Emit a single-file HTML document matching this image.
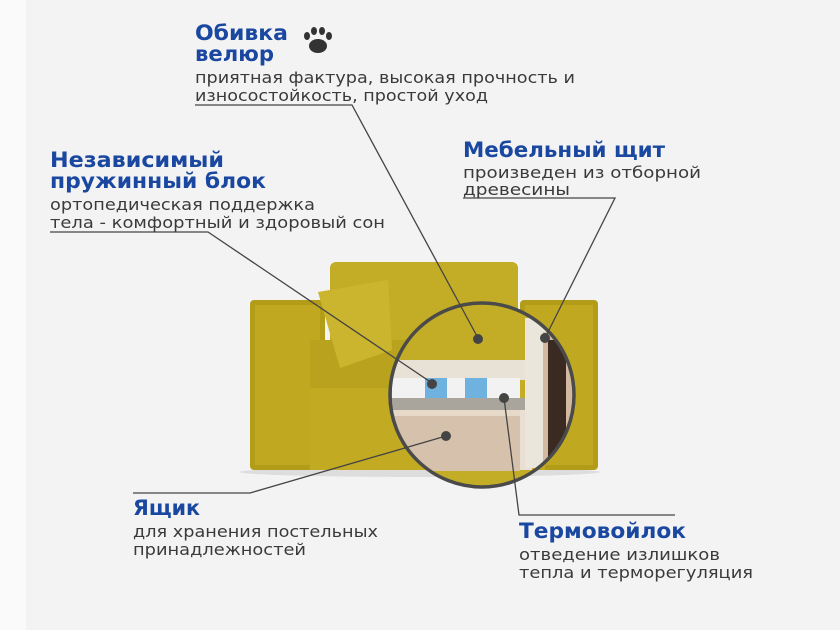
<!DOCTYPE html>
<html><head><meta charset="utf-8"><style>
body{margin:0;background:#f3f3f3;}
svg{display:block}
.h{font-family:"DejaVu Sans","Liberation Sans",sans-serif;font-weight:bold;fill:#1a47a0;font-size:21px}
.d{font-family:"DejaVu Sans","Liberation Sans",sans-serif;fill:#3a3a3a;font-size:16px}
</style></head><body>
<svg width="840" height="630" viewBox="0 0 840 630">
<rect width="840" height="630" fill="#f3f3f3"/>
<rect x="0" y="0" width="26" height="630" fill="#fafafa"/>
<!-- sofa -->
<ellipse cx="420" cy="472" rx="180" ry="5" fill="#ddd"/>
<rect x="250" y="300" width="75" height="170" rx="4" fill="#b39c18"/>
<rect x="255" y="305" width="65" height="160" fill="#c0a920"/>
<rect x="520" y="300" width="78" height="170" rx="4" fill="#b39c18"/>
<rect x="525" y="305" width="68" height="160" fill="#c0a920"/>
<rect x="330" y="262" width="188" height="95" rx="6" fill="#c4ad26"/>
<rect x="310" y="340" width="220" height="50" fill="#b9a21e"/>
<rect x="310" y="388" width="235" height="82" fill="#c2aa22"/>
<polygon points="318,292 388,280 392,350 340,368" fill="#cbb42e"/>
<!-- circle cutaway -->
<clipPath id="c"><circle cx="482" cy="395" r="92"/></clipPath>
<g clip-path="url(#c)">
<rect x="380" y="290" width="210" height="210" fill="#c4ad26"/>
<rect x="390" y="360" width="150" height="20" fill="#e8e2d6"/>
<rect x="392" y="378" width="128" height="20" fill="#f2f2f2"/>
<rect x="425" y="378" width="22" height="20" fill="#6fb2e0"/>
<rect x="465" y="378" width="22" height="20" fill="#6fb2e0"/>
<rect x="390" y="398" width="140" height="12" fill="#a9a49c"/>
<rect x="390" y="410" width="140" height="6" fill="#e6d9c8"/>
<rect x="390" y="416" width="130" height="55" fill="#d6c2ac"/>
<rect x="520" y="410" width="12" height="60" fill="#e9dfd2"/>
<rect x="525" y="318" width="28" height="150" fill="#ebe6dc"/>
<rect x="543" y="332" width="30" height="150" fill="#d3b9a0"/>
<rect x="548" y="340" width="18" height="120" fill="#3a2a22"/>
</g>
<circle cx="482" cy="395" r="92" fill="none" stroke="#4a4a4a" stroke-width="3.5"/>
<!-- connectors -->
<g stroke="#444" stroke-width="1.3" fill="none">
<polyline points="195,105 352,105 478,338"/>
<polyline points="463,198 615,198 545,338"/>
<polyline points="50,232 208,232 432,383"/>
<polyline points="133,493 250,493 446,436"/>
<polyline points="504,398 519,515 675,515"/>
</g>
<g fill="#444">
<circle cx="478" cy="339" r="5"/><circle cx="545" cy="338" r="5"/>
<circle cx="432" cy="384" r="5"/><circle cx="446" cy="436" r="5"/>
<circle cx="504" cy="398" r="5"/>
</g>
<!-- paw -->
<g fill="#333">
<ellipse cx="318" cy="46" rx="9" ry="7"/>
<ellipse cx="307" cy="36" rx="3" ry="4"/><ellipse cx="314" cy="31" rx="3" ry="4"/>
<ellipse cx="322" cy="31" rx="3" ry="4"/><ellipse cx="329" cy="36" rx="3" ry="4"/>
</g>
<!-- texts -->
<g lengthAdjust="spacingAndGlyphs">
<text class="h" x="195" y="40" textLength="93" lengthAdjust="spacingAndGlyphs">Обивка</text>
<text class="h" x="195" y="61" textLength="79" lengthAdjust="spacingAndGlyphs">велюр</text>
<text class="d" x="195" y="83" textLength="380" lengthAdjust="spacingAndGlyphs">приятная фактура, высокая прочность и</text>
<text class="d" x="195" y="101" textLength="293" lengthAdjust="spacingAndGlyphs">износостойкость, простой уход</text>
<text class="h" x="50" y="167" textLength="174" lengthAdjust="spacingAndGlyphs">Независимый</text>
<text class="h" x="50" y="188" textLength="216" lengthAdjust="spacingAndGlyphs">пружинный блок</text>
<text class="d" x="50" y="210" textLength="265" lengthAdjust="spacingAndGlyphs">ортопедическая поддержка</text>
<text class="d" x="50" y="228" textLength="335" lengthAdjust="spacingAndGlyphs">тела - комфортный и здоровый сон</text>
<text class="h" x="463" y="157" textLength="202" lengthAdjust="spacingAndGlyphs">Мебельный щит</text>
<text class="d" x="463" y="178" textLength="238" lengthAdjust="spacingAndGlyphs">произведен из отборной</text>
<text class="d" x="463" y="195" textLength="107" lengthAdjust="spacingAndGlyphs">древесины</text>
<text class="h" x="133" y="515" textLength="67" lengthAdjust="spacingAndGlyphs">Ящик</text>
<text class="d" x="133" y="537" textLength="245" lengthAdjust="spacingAndGlyphs">для хранения постельных</text>
<text class="d" x="133" y="555" textLength="173" lengthAdjust="spacingAndGlyphs">принадлежностей</text>
<text class="h" x="519" y="538" textLength="167" lengthAdjust="spacingAndGlyphs">Термовойлок</text>
<text class="d" x="519" y="560" textLength="201" lengthAdjust="spacingAndGlyphs">отведение излишков</text>
<text class="d" x="519" y="578" textLength="234" lengthAdjust="spacingAndGlyphs">тепла и терморегуляция</text>
</g>
</svg>
</body></html>
